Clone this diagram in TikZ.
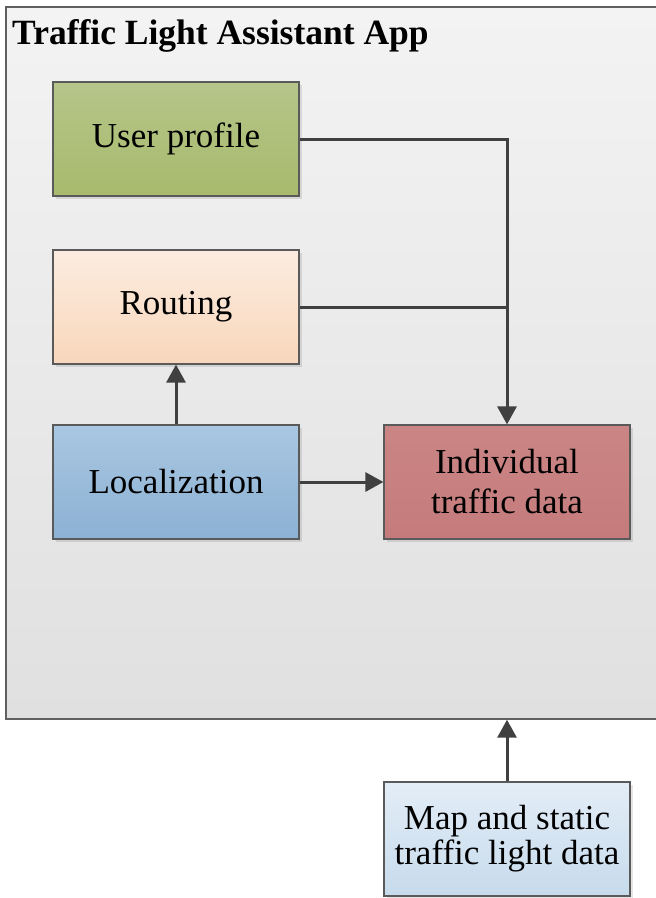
\documentclass[tikz,border=0pt]{standalone}
\usepackage{fontspec}
\setmainfont{Liberation Serif}
\usetikzlibrary{arrows.meta,shadows}

\definecolor{frameline}{RGB}{96,96,96}
\definecolor{boxline}{RGB}{90,90,90}
\definecolor{linkcol}{RGB}{64,64,64}
\definecolor{apptop}{RGB}{243,243,243}
\definecolor{appbot}{RGB}{224,224,224}
\definecolor{greentop}{RGB}{182,197,138}
\definecolor{greenbot}{RGB}{167,186,108}
\definecolor{peachtop}{RGB}{252,236,224}
\definecolor{peachbot}{RGB}{248,215,187}
\definecolor{bluetop}{RGB}{169,199,225}
\definecolor{bluebot}{RGB}{140,177,212}
\definecolor{redtop}{RGB}{203,133,133}
\definecolor{redbot}{RGB}{197,123,123}
\definecolor{palebluetop}{RGB}{227,237,247}
\definecolor{palebluebot}{RGB}{199,219,236}

\tikzset{
  container/.style={draw=frameline, line width=1.4pt, top color=apptop,
    bottom color=appbot, inner sep=0pt},
  block/.style={draw=boxline, line width=1.2pt, minimum width=246pt,
    minimum height=114pt, align=center, inner sep=0pt,
    font=\fontsize{35}{38}\selectfont,
    drop shadow={shadow xshift=3pt, shadow yshift=-3pt, fill=black, opacity=0.10}},
  link/.style={draw=linkcol, line width=3pt},
  arrowlink/.style={link, -{Triangle[length=18pt,width=19pt]}}
}

\begin{document}
\begin{tikzpicture}[x=1pt,y=-1pt]
  \useasboundingbox (0,0) rectangle (656,898);

  % application frame (runs past the right edge)
  \node[container, minimum width=660pt, minimum height=712pt] (app) at (336,363) {};
  \node[anchor=base west, inner sep=0pt, font=\fontsize{35.5}{38}\selectfont\bfseries]
    (title) at (12,44) {Traffic Light Assistant App};

  % components
  \node[block, top color=greentop, bottom color=greenbot] (profile) at (176,139) {User profile};
  \node[block, top color=peachtop, bottom color=peachbot] (routing) at (176,307) {Routing};
  \node[block, top color=bluetop, bottom color=bluebot] (local) at (176,482) {Localization};
  \node[block, top color=redtop, bottom color=redbot, font=\fontsize{35}{40}\selectfont]
    (indiv) at (507,482) {Individual\\traffic data};
  \node[block, top color=palebluetop, bottom color=palebluebot, font=\fontsize{35}{35}\selectfont]
    (mapdata) at (507,839) {Map and static\\traffic light data};

  % connections
  \draw[arrowlink] (profile.east) -| (indiv.north);
  \draw[link] (routing.east) -- (routing.east -| indiv.north);
  \draw[arrowlink] (local.north) -- (routing.south);
  \draw[arrowlink] (local.east) -- (indiv.west);
  \draw[arrowlink] (mapdata.north) -- (mapdata.north |- app.south);
\end{tikzpicture}
\end{document}
